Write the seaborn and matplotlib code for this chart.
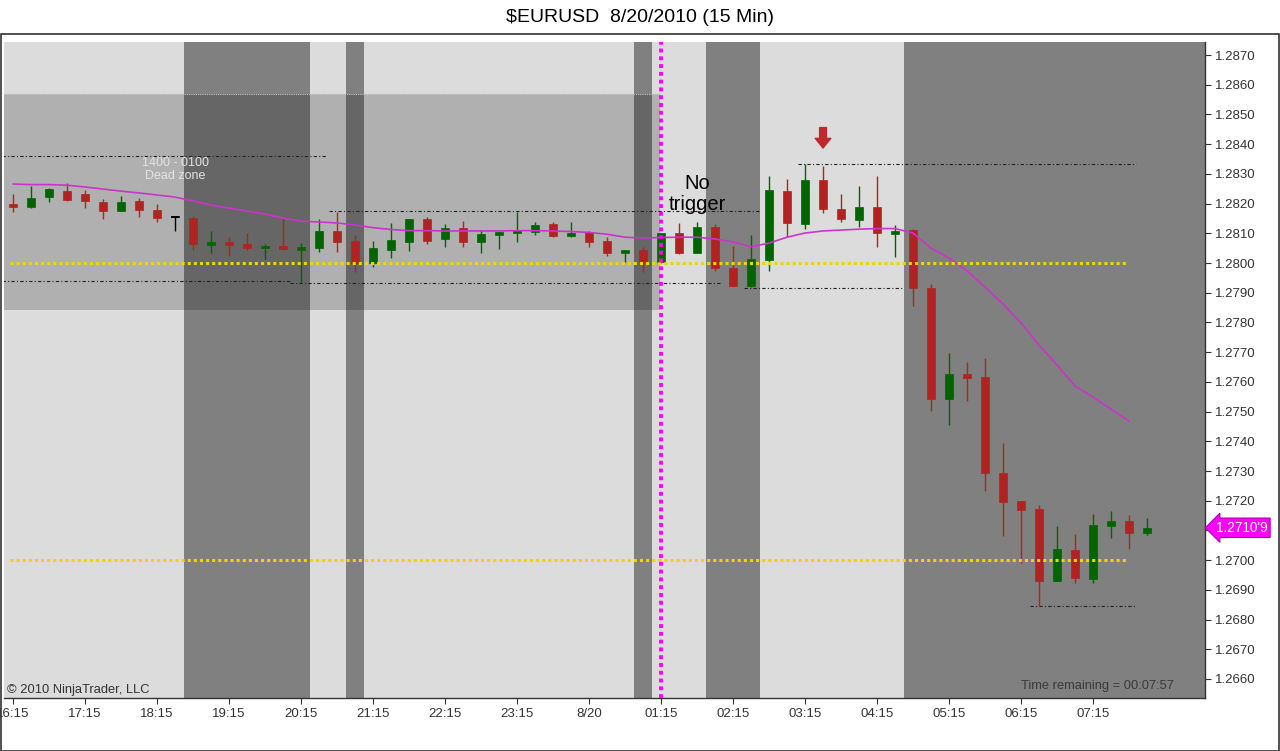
import numpy as np
import pandas as pd
import matplotlib
matplotlib.use('Agg')
import matplotlib.pyplot as plt
import matplotlib.transforms as mtransforms
from matplotlib.patches import Rectangle
import seaborn as sns

# 15 min bars, 16:15 -> 08:00
opens = [1.28199, 1.28189, 1.28221, 1.28243, 1.28234, 1.28206, 1.28176, 1.28209, 1.28178, 1.28154,
         1.28150, 1.28060, 1.28071, 1.28064, 1.28049, 1.28058, 1.28044, 1.28051, 1.28108, 1.28075,
         1.28001, 1.28044, 1.28072, 1.28148, 1.28082, 1.28117, 1.28071, 1.28094, 1.28102, 1.28105,
         1.28130, 1.28091, 1.28103, 1.28074, 1.28035, 1.28044, 1.28004, 1.28100, 1.28035, 1.28122,
         1.27982, 1.27923, 1.28010, 1.28243, 1.28131, 1.28279, 1.28182, 1.28145, 1.28187, 1.28097,
         1.28111, 1.27915, 1.27542, 1.27626, 1.27617, 1.27292, 1.27199, 1.27171, 1.26931, 1.27034,
         1.26936, 1.27115, 1.27131, 1.27093]
highs = [1.28234, 1.28260, 1.28253, 1.28270, 1.28246, 1.28215, 1.28225, 1.28220, 1.28199, 1.28154,
         1.28158, 1.28109, 1.28086, 1.28100, 1.28063, 1.28150, 1.28066, 1.28147, 1.28173, 1.28094,
         1.28074, 1.28136, 1.28149, 1.28156, 1.28130, 1.28141, 1.28111, 1.28105, 1.28173, 1.28139,
         1.28137, 1.28139, 1.28109, 1.28086, 1.28045, 1.28053, 1.28102, 1.28134, 1.28137, 1.28131,
         1.28057, 1.28094, 1.28293, 1.28282, 1.28332, 1.28326, 1.28232, 1.28259, 1.28293, 1.28128,
         1.28113, 1.27928, 1.27696, 1.27668, 1.27682, 1.27395, 1.27200, 1.27185, 1.27115, 1.27087,
         1.27154, 1.27165, 1.27152, 1.27141]
lows = [1.28173, 1.28186, 1.28204, 1.28210, 1.28186, 1.28148, 1.28175, 1.28154, 1.28137, 1.28109,
        1.28044, 1.28033, 1.28024, 1.28044, 1.28013, 1.28044, 1.27932, 1.28038, 1.28038, 1.27971,
        1.27987, 1.28016, 1.28041, 1.28064, 1.28053, 1.28055, 1.28033, 1.28047, 1.28072, 1.28094,
        1.28088, 1.28088, 1.28055, 1.28024, 1.28004, 1.27971, 1.27999, 1.28030, 1.28033, 1.27974,
        1.27922, 1.27920, 1.27974, 1.28086, 1.28114, 1.28167, 1.28139, 1.28122, 1.28055, 1.28021,
        1.27855, 1.27503, 1.27455, 1.27535, 1.27233, 1.27082, 1.26991, 1.26846, 1.26930, 1.26922,
        1.26924, 1.27075, 1.27037, 1.27084]
closes = [1.28189, 1.28218, 1.28248, 1.28212, 1.28209, 1.28176, 1.28206, 1.28178, 1.28152, 1.28154,
          1.28064, 1.28072, 1.28060, 1.28049, 1.28059, 1.28046, 1.28055, 1.28108, 1.28072, 1.28001,
          1.28049, 1.28077, 1.28148, 1.28075, 1.28117, 1.28071, 1.28097, 1.28104, 1.28110, 1.28128,
          1.28091, 1.28102, 1.28071, 1.28035, 1.28044, 1.28004, 1.28100, 1.28033, 1.28122, 1.27982,
          1.27923, 1.28012, 1.28246, 1.28136, 1.28279, 1.28182, 1.28147, 1.28187, 1.28100, 1.28109,
          1.27917, 1.27542, 1.27626, 1.27614, 1.27295, 1.27196, 1.27169, 1.26931, 1.27036, 1.26941,
          1.27118, 1.27131, 1.27092, 1.27109]

# moving average (drawn up to bar 62)
ma = [1.28266, 1.28264, 1.28264, 1.28262, 1.28256, 1.28249, 1.28242, 1.28236, 1.28229, 1.28222,
      1.28209, 1.28195, 1.28185, 1.28175, 1.28165, 1.28151, 1.28141, 1.28138, 1.28135, 1.28128,
      1.28119, 1.28113, 1.28109, 1.28109, 1.28108, 1.28108, 1.28108, 1.28108, 1.28109, 1.28109,
      1.28108, 1.28106, 1.28103, 1.28097, 1.28087, 1.28084, 1.28086, 1.28087, 1.28087, 1.28081,
      1.28071, 1.28055, 1.28067, 1.28087, 1.28101, 1.28108, 1.28111, 1.28114, 1.28116, 1.28116,
      1.28101, 1.28050, 1.28017, 1.27973, 1.27919, 1.27862, 1.27798, 1.27724, 1.27657, 1.27586,
      1.27549, 1.27508, 1.27468]

# session shading (bar index ranges)
dark_start = [9.5, 18.5, 34.5, 38.5, 49.5]
dark_end = [16.5, 19.5, 35.5, 41.5, 67.0]

# dead zone box
zone_x0, zone_x1 = -0.6, 35.94
zone_lo, zone_hi = 1.27842, 1.28569

# swing high/low dashed lines
lvl_price = [1.28361, 1.28175, 1.27938, 1.27932, 1.27915, 1.28332, 1.26847]
lvl_start = [-0.6, 17.56, -0.6, 15.4, 40.6, 43.6, 56.5]
lvl_end = [17.4, 41.5, 15.4, 39.4, 49.4, 62.4, 62.4]

yellow_lvls = [1.2800, 1.2700]

xtick_pos = [0, 4, 8, 12, 16, 20, 24, 28, 32, 36, 40, 44, 48, 52, 56, 60]
xtick_lab = ['16:15', '17:15', '18:15', '19:15', '20:15', '21:15', '22:15', '23:15', '8/20',
             '01:15', '02:15', '03:15', '04:15', '05:15', '06:15', '07:15']
ytick_val = [1.2660, 1.2670, 1.2680, 1.2690, 1.2700, 1.2710, 1.2720, 1.2730, 1.2740, 1.2750,
             1.2760, 1.2770, 1.2780, 1.2790, 1.2800, 1.2810, 1.2820, 1.2830, 1.2840, 1.2850,
             1.2860, 1.2870]
# 1.2710 sits under the last-price marker
ytick_lab = ['1.2660', '1.2670', '1.2680', '1.2690', '1.2700', '', '1.2720', '1.2730',
             '1.2740', '1.2750', '1.2760', '1.2770', '1.2780', '1.2790', '1.2800', '1.2810',
             '1.2820', '1.2830', '1.2840', '1.2850', '1.2860', '1.2870']

last_price = 1.27109

sns.set_style('white')
plt.rcParams['font.family'] = ['Liberation Sans', 'DejaVu Sans']

df = pd.DataFrame({'o': opens, 'h': highs, 'l': lows, 'c': closes})
df['i'] = np.arange(len(df))
df['col'] = np.where(df.c > df.o, '#006400', np.where(df.c < df.o, '#B22222', '#000000'))

fig = plt.figure(figsize=(12.8, 7.51), dpi=100)
ax = fig.add_axes([4/1280, 1-698/751, 1201/1280, 656/751])
ax.set_facecolor('#DCDCDC')

for a, b in zip(dark_start, dark_end):
    ax.axvspan(a, b, color='#808080', lw=0, zorder=0)

ax.add_patch(Rectangle((zone_x0, zone_lo), zone_x1-zone_x0, zone_hi-zone_lo,
                       fc='black', alpha=0.2, lw=0, zorder=1))
ax.hlines(zone_hi, zone_x0, zone_x1, colors='#C8C8C8', linestyles=(0, (1, 1)), lw=0.8, zorder=1)
ax.text(9, 1.28315, '1400 - 0100\nDead zone', ha='center', va='center',
        color='#E4E4E4', fontsize=9, linespacing=1.2, zorder=2)

for p, a, b in zip(lvl_price, lvl_start, lvl_end):
    ax.hlines(p, a, b, colors='#222222', linestyles=(0, (3, 2, 1, 2)), lw=0.8, zorder=3)

# candles
ax.vlines(df.i, df.l, df.h, colors=df.col, lw=1, zorder=5)
body_lo = np.minimum(df.o, df.c)
body_h = np.maximum(np.abs(df.c - df.o), 0.000035)
ax.bar(df.i, body_h, bottom=body_lo, width=0.4, color=df.col, edgecolor=df.col, lw=0.5, zorder=5)
doji = df[df.c == df.o]
ax.hlines(doji.h, doji.i - 0.2, doji.i + 0.2, colors='black', lw=1.2, zorder=5)

sns.lineplot(x=np.arange(len(ma)), y=ma, ax=ax, color='#CC33CC', lw=1.2, zorder=6)

ax.hlines(yellow_lvls, -0.17, 61.9, colors='#F2D400', lw=2.2, linestyles=(0, (1, 1)), zorder=7)
ax.axvline(36, color='#FF00FF', lw=2.8, ls=(0, (1, 1)), zorder=8)

ax.text(38, 1.28232, 'No\ntrigger', ha='center', va='center', fontsize=14.5,
        linespacing=1.15, color='black', zorder=9)
ax.annotate('', xy=(45, 1.28387), xytext=(45, 1.28456),
            arrowprops=dict(arrowstyle='simple,head_length=0.5,head_width=0.8,tail_width=0.35',
                            color='#C0282D', shrinkA=0, shrinkB=0, mutation_scale=14), zorder=9)

ax.set_xlim(-0.5, 66.22)
ax.set_ylim(1.26536, 1.28744)

ax.set_xticks(xtick_pos)
ax.set_xticklabels(xtick_lab)
ax.yaxis.tick_right()
ax.set_yticks(ytick_val)
ax.set_yticklabels(ytick_lab)
ax.tick_params(axis='both', direction='out', length=4, width=0.8, color='#333333',
               labelsize=9.5, labelcolor='#333333', pad=3)
ax.tick_params(axis='x', bottom=True)
ax.tick_params(axis='y', right=True)
ax.grid(False)
for s in ['left', 'top']:
    ax.spines[s].set_visible(False)
for s in ['right', 'bottom']:
    ax.spines[s].set_color('#333333')
    ax.spines[s].set_linewidth(1)

trans = mtransforms.blended_transform_factory(ax.transAxes, ax.transData)
ax.text(1.009, last_price, "1.2710'9", transform=trans, ha='left', va='center',
        color='white', fontsize=9.8, clip_on=False, zorder=10,
        bbox=dict(boxstyle='larrow,pad=0.2', fc='#FF00FF', ec='#B000B0', lw=0.8))

fig.text(0.5, 1-17/751, r'\$EURUSD  8/20/2010 (15 Min)', ha='center', va='center',
         fontsize=14, color='black')
fig.text(7/1280, 1-690/751, '\u00a9 2010 NinjaTrader, LLC', ha='left', va='center',
         fontsize=9.3, color='#333333')
fig.text(1174/1280, 1-686/751, 'Time remaining = 00:07:57', ha='right', va='center',
         fontsize=9.3, color='#3A3A3A')

fig.add_artist(Rectangle((0.5/1280, 0.5/751), 1-1.5/1280, 1-34/751-0.5/751,
                         transform=fig.transFigure, fill=False, ec='#333333', lw=1.2))

fig.savefig('out.png', dpi=100)
